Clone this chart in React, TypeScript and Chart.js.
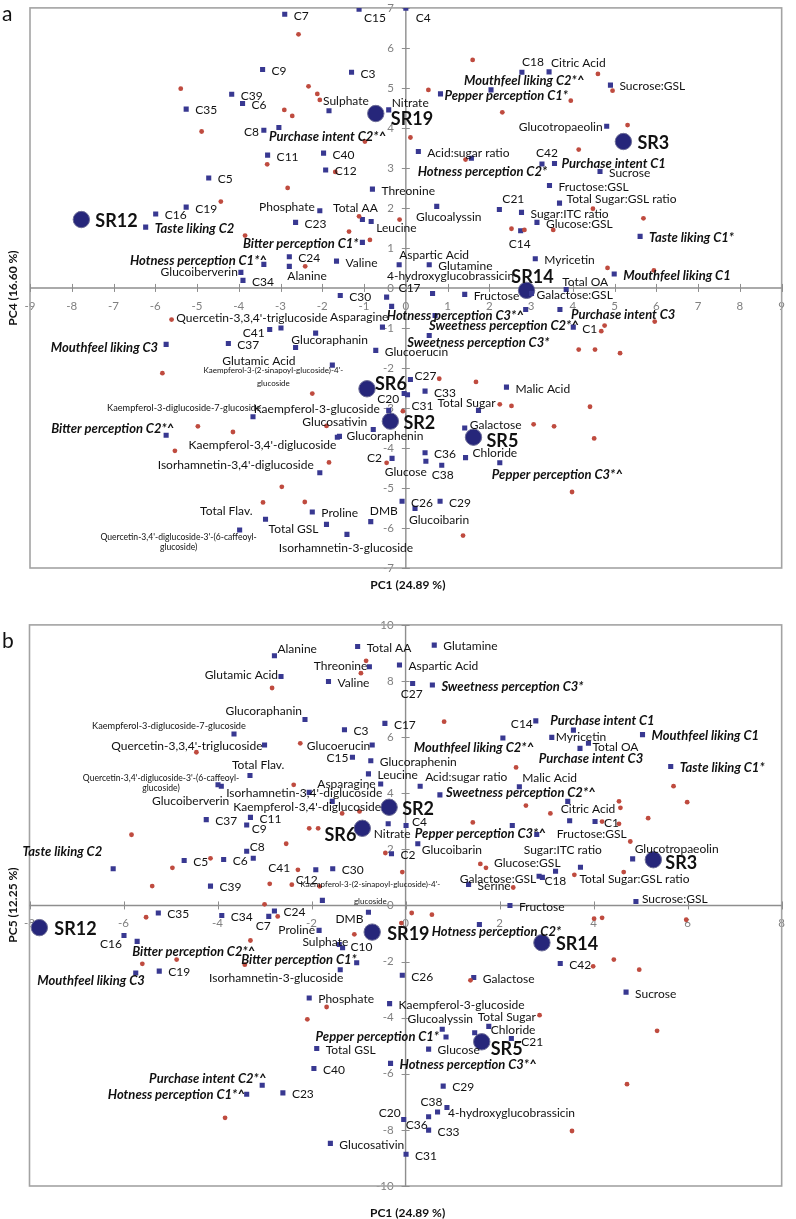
import React, { useEffect, useRef } from 'react';
import { Chart, registerables } from 'chart.js';

Chart.register(...registerables);

type Item = [string, number, number];
type Pair = [number, number];
type Align = 'left' | 'right' | 'center';
type Place = [number, number, Align?, number?];

const SINAPOYL = "Kaempferol-3-(2-sinapoyl-glucoside)-4'-\nglucoside";
const CAFFEOYL = "Quercetin-3,4'-diglucoside-3'-(6-caffeoyl-\nglucoside)";

// ---------------- Panel a : PC1 vs PC4 ----------------
const ticksA_PC1 = [-9, -8, -7, -6, -5, -4, -3, -2, -1, 0, 1, 2, 3, 4, 5, 6, 7, 8, 9];
const ticksA_PC4 = [-7, -6, -5, -4, -3, -2, -1, 0, 1, 2, 3, 4, 5, 6, 7];
const titlesA = ['PC1 (24.89 %)', 'PC4 (16.60 %)'];

const samplesA: Item[] = [
  ['SR19', -0.72, 4.36], ['SR3', 5.21, 3.66], ['SR12', -7.77, 1.71], ['SR14', 2.89, -0.06],
  ['SR6', -0.93, -2.52], ['SR2', -0.37, -3.33], ['SR5', 1.62, -3.73],
];

const variablesA: Item[] = [
  ['C7', -2.90, 6.84], ['C15', -1.12, 6.97], ['C4', 0.0, 6.99], ['C9', -3.43, 5.46], ['C3', -1.30, 5.39],
  ['C39', -4.17, 4.84], ['C6', -3.91, 4.61], ['C35', -5.26, 4.47], ['Sulphate', -1.84, 4.43], ['Nitrate', -0.41, 4.45],
  ['C8', -3.40, 3.94], ['Purchase intent C2*^', -3.04, 4.01], ['C11', -3.31, 3.32], ['C40', -1.97, 3.37],
  ['Acid:sugar ratio', 0.30, 3.41], ['C12', -1.92, 2.95], ['C5', -4.72, 2.75], ['Threonine', -0.80, 2.47],
  ['C19', -5.26, 2.02], ['C16', -5.99, 1.85], ['Phosphate', -2.06, 1.93], ['Total AA', -1.04, 1.71],
  ['Leucine', -0.83, 1.66], ['C23', -2.64, 1.64], ['Taste liking C2', -6.23, 1.52], ['Bitter perception C1*', -1.04, 1.14],
  ['Glucoalyssin', 0.74, 2.04], ['C21', 2.24, 1.96], ['Sugar:ITC ratio', 2.77, 1.89], ['C14', 2.75, 1.43],
  ['Glucose:GSL', 3.14, 1.64], ['C24', -2.79, 0.78], ['Alanine', -2.79, 0.54], ['Valine', -1.66, 0.67],
  ['Aspartic Acid', -0.16, 0.58], ['Glutamine', 0.56, 0.58], ['Hotness perception C1*^', -3.40, 0.59],
  ['Glucoiberverin', -3.95, 0.39], ['C34', -3.90, 0.19], ['Myricetin', 3.10, 0.73], ['Mouthfeel liking C1', 4.99, 0.35],
  ['Taste liking C1*', 5.61, 1.29], ['C18', 2.78, 5.39], ['Citric Acid', 3.43, 5.40], ['Mouthfeel liking C2*^', 2.04, 4.95],
  ['Pepper perception C1*', 0.83, 4.85], ['Sucrose:GSL', 4.90, 5.07], ['Glucotropaeolin', 4.81, 4.04], ['C42', 3.26, 3.10],
  ['Purchase intent C1', 3.56, 3.11], ['Hotness perception C2*', 1.57, 3.24], ['Sucrose', 4.65, 2.91],
  ['Fructose:GSL', 3.44, 2.56], ['Total Sugar:GSL ratio', 3.68, 2.12], ['Total OA', 3.84, -0.04],
  ['Galactose:GSL', 3.01, -0.14], ['Fructose', 1.41, -0.16], ['4-hydroxyglucobrassicin', 0.64, -0.14],
  ['C30', -1.57, -0.19], ['C17', -0.46, -0.23], ['', -0.34, -0.46], ['Asparagine', -0.56, -0.98],
  ['Hotness perception C3*^', 2.87, -0.54], ['Purchase intent C3', 3.69, -0.54], ['C1', 4.01, -0.98],
  ['Sweetness perception C2*^', 0.70, -0.69], ['Sweetness perception C3*', 0.56, -1.19], ['C41', -3.26, -1.04],
  ["Quercetin-3,3,4'-triglucoside", -2.99, -1.00], ['Glucoraphanin', -2.16, -1.13], ['Glutamic Acid', -2.64, -1.49],
  ['Glucoerucin', -0.72, -1.56], ['Mouthfeel liking C3', -5.74, -1.41], ['C37', -4.25, -1.39], [SINAPOYL, -1.76, -1.93],
  ['C27', 0.11, -2.29], ['C20', -0.04, -2.64], ['C31', 0.04, -2.67], ['C33', 0.46, -2.58], ['Malic Acid', 2.41, -2.48],
  ['Total Sugar', 1.74, -3.06], ['Kaempferol-3-glucoside', -0.41, -3.06], ['Glucosativin', -0.78, -3.54],
  ['Glucoraphenin', -1.59, -3.71], ["Kaempferol-3,4'-diglucoside", -1.64, -3.73], ['Galactose', 1.41, -3.50],
  ['C2', -0.33, -4.26], ['Glucose', 0.48, -4.33], ['C36', 0.46, -4.12], ['C38', 0.86, -4.43], ['Chloride', 1.43, -4.24],
  ['Pepper perception C3*^', 2.25, -4.37], ["Isorhamnetin-3,4'-diglucoside", -2.06, -4.62],
  ['Kaempferol-3-diglucoside-7-glucoside', -3.66, -3.22], ['Bitter perception C2*^', -5.74, -3.68],
  ['Proline', -2.24, -5.60], ['DMB', -0.84, -5.84], ['C26', -0.09, -5.33], ['Glucoibarin', 0.22, -5.51],
  ['C29', 0.82, -5.33], ['Total Flav.', -3.36, -5.78], ['Total GSL', -1.90, -5.91],
  ['Isorhamnetin-3-glucoside', -1.41, -6.16], [CAFFEOYL, -3.98, -6.05],
];

const consumersA: Pair[] = [
  [-5.39, 4.98], [-4.89, 3.91], [-4.43, 2.16], [-3.85, 1.31], [-2.57, 6.34], [-2.33, 5.04], [-2.12, 4.85],
  [-2.06, 4.70], [-2.91, 4.45], [-2.72, 4.30], [-0.98, 3.66], [0.11, 3.76], [-3.32, 3.09], [-1.69, 2.90],
  [-2.83, 2.50], [-1.12, 1.79], [-0.15, 1.71], [-1.36, 1.41], [-0.86, 1.20], [-2.41, 0.54], [1.43, 3.21],
  [1.60, 5.70], [0.54, 4.95], [2.31, 4.39], [3.95, 4.68], [4.60, 5.35], [4.95, 4.93], [5.31, 4.07],
  [4.14, 3.46], [4.48, 1.98], [5.69, 1.74], [3.53, 1.45], [2.84, 1.45], [2.53, 1.48], [4.83, 0.50],
  [5.94, 0.44], [-5.61, -0.79], [-5.83, -2.13], [-4.98, -3.46], [-4.14, -3.60], [-5.53, -4.07],
  [-3.42, -5.36], [-2.97, -4.97], [-2.42, -5.35], [-1.84, -4.36], [-0.46, -4.37], [-0.07, -3.08],
  [-1.90, -3.45], [-2.24, -2.64], [0.80, -2.27], [1.68, -2.35], [2.25, -2.91], [2.53, -2.95],
  [1.37, -6.19], [4.76, -0.94], [4.68, -1.08], [5.96, -0.84], [4.14, -1.54], [4.53, -1.54], [5.13, -1.63],
  [4.41, -2.97], [3.06, -3.41], [3.55, -3.46], [4.51, -3.76], [3.98, -5.10],
];

// ---------------- Panel b : PC1 vs PC5 ----------------
const ticksB_PC1 = [-8, -6, -4, -2, 0, 2, 4, 6, 8];
const ticksB_PC5 = [-10, -8, -6, -4, -2, 0, 2, 4, 6, 8, 10];
const titlesB = ['PC1 (24.89 %)', 'PC5 (12.25 %)'];

const samplesB: Item[] = [
  ['SR2', -0.35, 3.50], ['SR6', -0.92, 2.75], ['SR3', 5.27, 1.63], ['SR12', -7.79, -0.79],
  ['SR19', -0.71, -0.95], ['SR14', 2.90, -1.33], ['SR5', 1.62, -4.86],
];

const variablesB: Item[] = [
  ['Glutamic Acid', -2.65, 8.16], ['Alanine', -2.79, 8.90], ['Total AA', -1.02, 9.23], ['Glutamine', 0.61, 9.28],
  ['Threonine', -0.77, 8.51], ['Aspartic Acid', -0.13, 8.57], ['Valine', -1.64, 7.98], ['C27', 0.15, 7.91],
  ['Sweetness perception C3*', 0.57, 7.86], ['Glucoraphanin', -2.14, 6.63],
  ['Kaempferol-3-diglucoside-7-glucoside', -3.65, 6.11], ["Quercetin-3,3,4'-triglucoside", -3.00, 5.72],
  ['C3', -1.30, 6.26], ['C17', -0.44, 6.49], ['Glucoerucin', -0.71, 5.72], ['C15', -1.13, 5.28],
  ['Glucoraphenin', -0.74, 5.16], ['Total Flav.', -3.31, 4.63], [CAFFEOYL, -3.99, 4.30], ['Glucoiberverin', -3.92, 4.25],
  ["Isorhamnetin-3,4'-diglucoside", -2.05, 4.03], ["Kaempferol-3,4'-diglucoside", -1.56, 3.71],
  ['Asparagine', -0.53, 4.33], ['Leucine', -0.79, 4.69], ['Acid:sugar ratio', 0.31, 4.25],
  ['Sweetness perception C2*^', 0.73, 3.94], ['Mouthfeel liking C2*^', 2.07, 5.97], ['C14', 2.77, 6.58],
  ['Purchase intent C1', 3.57, 6.25], ['Myricetin', 3.11, 5.99], ['Total OA', 3.89, 5.78],
  ['Purchase intent C3', 3.71, 5.60], ['Mouthfeel liking C1', 5.04, 6.09], ['Taste liking C1*', 5.64, 4.95],
  ['Malic Acid', 2.42, 4.23], ['Citric Acid', 3.45, 3.71], ['Fructose:GSL', 3.49, 3.02], ['C1', 4.03, 2.99],
  ['Nitrate', -0.37, 2.91], ['C4', 0.01, 2.85], ['Pepper perception C3*^', 2.27, 2.85], ['Sugar:ITC ratio', 2.79, 2.53],
  ['Glucoibarin', 0.26, 2.20], ['C2', -0.30, 1.84], ['Glucotropaeolin', 4.83, 1.66], ['Glucose:GSL', 3.19, 1.22],
  ['Galactose:GSL', 2.84, 1.04], ['C18', 2.91, 1.00], ['Total Sugar:GSL ratio', 3.72, 1.36],
  ['Taste liking C2', -6.22, 1.31], ['C8', -3.38, 1.93], ['C37', -4.24, 3.06], ['C11', -3.30, 3.14], ['C9', -3.38, 2.87],
  ['C5', -4.71, 1.60], ['C6', -3.87, 1.64], ['C41', -3.24, 1.68], ['C12', -1.91, 1.27], ['C30', -1.55, 1.31],
  ['C39', -4.15, 0.69], [SINAPOYL, -1.77, 0.18], ['Serine', 1.34, 0.75], ['Fructose', 2.22, 0.0],
  ['Sucrose:GSL', 4.90, 0.14], ['C35', -5.26, -0.27], ['C34', -3.91, -0.36], ['C24', -2.79, -0.20], ['C7', -2.91, -0.39],
  ['Proline', -1.84, -0.89], ['DMB', -0.79, -0.24], ['C16', -5.99, -1.07], ['Bitter perception C2*^', -5.71, -1.28],
  ['Sulphate', -1.41, -1.39], ['C10', -1.34, -1.51], ['Hotness perception C2*', 1.57, -0.68], ['C42', 3.29, -2.07],
  ['Sucrose', 4.69, -3.09], ['Bitter perception C1*', -1.04, -2.04], ['Isorhamnetin-3-glucoside', -1.39, -2.29],
  ['Mouthfeel liking C3', -5.74, -2.41], ['C19', -5.24, -2.34], ['C26', -0.07, -2.49], ['Galactose', 1.45, -2.57],
  ['Phosphate', -2.05, -3.30], ['Kaempferol-3-glucoside', -0.34, -3.50], ['Glucoalyssin', 0.78, -4.41],
  ['Total Sugar', 1.47, -4.54], ['Chloride', 1.77, -4.31], ['Pepper perception C1*', 0.86, -4.69], ['C21', 2.25, -4.74],
  ['Glucose', 0.49, -5.12], ['Total GSL', -1.89, -5.10], ['C40', -1.95, -5.81], ['Hotness perception C3*^', -0.32, -5.63],
  ['C23', -2.61, -6.68], ['Purchase intent C2*^', -3.05, -6.41], ['Hotness perception C1*^', -3.38, -6.73],
  ['C29', 0.80, -6.44], ['4-hydroxyglucobrassicin', 0.88, -7.20], ['C38', 0.68, -7.36], ['C36', 0.49, -7.53],
  ['C33', 0.49, -8.01], ['C20', -0.04, -7.63], ['C31', 0.01, -8.87], ['Glucosativin', -1.60, -8.48],
];

const consumersB: Pair[] = [
  [-2.84, 7.75], [-0.84, 8.72], [-0.95, 8.28], [0.82, 6.55], [-2.24, 5.78], [-4.45, 5.46], [-2.38, 4.30],
  [-1.35, 3.28], [-0.98, 3.35], [-2.05, 2.75], [-1.86, 2.75], [-2.54, 2.20], [-5.83, 2.52], [-4.15, 1.68],
  [-4.96, 1.34], [-5.39, 0.69], [-2.29, 1.27], [-2.89, 0.77], [-2.42, 0.74], [-1.83, 0.68], [-3.00, 0.04],
  [-2.72, -0.39], [-0.43, 1.87], [-0.07, 1.19], [1.43, 2.96], [2.35, 4.92], [2.56, 3.56], [3.08, 3.28],
  [4.54, 3.71], [4.57, 3.48], [4.54, 2.91], [4.18, 2.99], [5.16, 3.11], [5.70, 4.25], [5.99, 3.68],
  [4.78, 2.28], [4.64, 1.19], [3.59, 1.09], [1.59, 1.48], [1.71, 1.34], [2.29, 0.64], [4.18, -0.44],
  [4.01, -0.47], [5.97, -0.51], [-0.09, -0.63], [0.13, -0.27], [0.56, -0.33], [-1.09, -1.03], [-3.30, -1.25],
  [-3.42, -2.11], [-5.52, -0.42], [-5.60, -2.08], [-4.87, -1.93], [3.99, -2.17], [4.43, -1.93], [4.97, -2.29],
  [2.85, -3.91], [5.35, -4.47], [4.71, -6.37], [3.54, -8.04], [1.38, -2.67], [-1.68, -3.62], [-2.09, -4.06],
  [-3.84, -7.57],
];

// ---------------- label placement (pixel offsets from each marker) ----------------
const placeA: Record<string, Place> = {
  C15: [5, 9], C4: [10, 10], Sulphate: [-6, -10], Nitrate: [3, -7], C8: [-5, 2, 'right'],
  'Purchase intent C2*^': [-10, 9], 'Hotness perception C2*': [11, 13, 'center'], Phosphate: [-5, -4, 'right'],
  'Total AA': [-7, -11, 'center'], Leucine: [5, 7], 'Bitter perception C1*': [-4, 1, 'right'],
  Glucoalyssin: [12, 11, 'center'], C21: [3, -10], C14: [-1, 13, 'center'], Alanine: [-2, 10],
  'Aspartic Acid': [0, -10], 'Hotness perception C1*^': [3, -4, 'right'], Glucoiberverin: [-3, 0, 'right'],
  C18: [0, -10], 'Citric Acid': [2, -9], 'Mouthfeel liking C2*^': [-27, -9], 'Pepper perception C1*': [4, 2],
  Glucotropaeolin: [-4, 1, 'right'], C42: [5, -11, 'center'], 'Purchase intent C1': [7, 0],
  'Total Sugar:GSL ratio': [7, -4], 'Total OA': [-4, -7], 'Galactose:GSL': [5, 2],
  '4-hydroxyglucobrassicin': [18, -17, 'center'], C17: [12, -9], Asparagine: [6, -10, 'right'],
  'Hotness perception C3*^': [-2, 6, 'right'], 'Sweetness perception C2*^': [-6, 10],
  'Sweetness perception C3*': [-22, 7], 'Purchase intent C3': [11, 5], C41: [-5, 4, 'right'],
  "Quercetin-3,3,4'-triglucoside": [-29, -10, 'center'], Glucoraphanin: [14, 7, 'center'],
  'Glutamic Acid': [0, 14, 'right'], [SINAPOYL]: [-59, 5, 'center', 13], C27: [4, -3], C20: [-5, 6, 'right'],
  C31: [4, 11], 'Total Sugar': [-12, -7, 'center'], 'Kaempferol-3-glucoside': [-9, -1, 'right'],
  Glucosativin: [-6, -7, 'right'], Glucoraphenin: [7, 0], "Kaempferol-3,4'-diglucoside": [-1, 8, 'right'],
  Galactose: [5, -3], C2: [-10, 0, 'right'], Glucose: [1, 11, 'right'], C38: [1, 10, 'center'], Chloride: [7, -4],
  'Pepper perception C3*^': [-8, 12], "Isorhamnetin-3,4'-diglucoside": [-6, -8, 'right'],
  'Kaempferol-3-diglucoside-7-glucoside': [-69, -9, 'center'], 'Bitter perception C2*^': [8, -6, 'right'],
  'Mouthfeel liking C3': [-8, 3, 'right'], DMB: [-1, -10], Glucoibarin: [-6, 12], 'Total Flav.': [-13, -8, 'right'],
  'Total GSL': [-8, 5, 'right'], 'Isorhamnetin-3-glucoside': [-1, 14, 'center'], [CAFFEOYL]: [-61, 7, 'center', 10.5],
  SR19: [15, 6], SR3: [14, 2], SR12: [14, 2], SR14: [6, -13, 'center'], SR6: [8, -5], SR2: [13, 2], SR5: [13, 4],
};

const placeB: Record<string, Place> = {
  'Glutamic Acid': [-3, -1, 'right'], Alanine: [3, -7], Threonine: [-2, -1, 'right'], C27: [-1, 11, 'center'],
  Glucoraphanin: [-3, -8, 'right'], 'Kaempferol-3-diglucoside-7-glucoside': [-65, -8, 'center'],
  "Quercetin-3,3,4'-triglucoside": [-2, 1, 'right'], Glucoerucin: [-2, 1, 'right'], C15: [-4, 1, 'right'],
  'Total Flav.': [-18, -10], [CAFFEOYL]: [-57, -7, 'center', 10], Glucoiberverin: [8, 15, 'right'],
  "Isorhamnetin-3,4'-diglucoside": [-5, 1, 'center'], "Kaempferol-3,4'-diglucoside": [-25, 6, 'center'],
  Asparagine: [-5, 0, 'right'], 'Acid:sugar ratio': [5, -9], 'Sweetness perception C2*^': [6, -2],
  'Mouthfeel liking C2*^': [-29, 10, 'center'], C14: [-3, 3, 'right'], 'Purchase intent C1': [29, -9, 'center'],
  Myricetin: [4, 0], 'Total OA': [4, 4], 'Purchase intent C3': [11, 10, 'center'], 'Malic Acid': [3, -9],
  'Citric Acid': [-7, 8], 'Fructose:GSL': [-13, 13], Nitrate: [4, 10, 'center'], C4: [6, -3],
  'Pepper perception C3*^': [-32, 8, 'center'], 'Sugar:ITC ratio': [-13, 16], Glucoibarin: [4, 6],
  Glucotropaeolin: [2, -10], 'Glucose:GSL': [5, -8, 'right'], 'Galactose:GSL': [-3, 3, 'right'], C18: [2, 4],
  'Total Sugar:GSL ratio': [-1, 12], 'Taste liking C2': [-11, -17, 'right'], C8: [3, -4], C9: [5, 4],
  C41: [15, 10], C12: [2, 10, 'right'], [SINAPOYL]: [48, -16, 'center', 17], 'Sucrose:GSL': [6, -2],
  C7: [2, 10, 'right'], Proline: [-4, 0, 'right'], DMB: [-5, 7, 'right'], C16: [-2, 9, 'right'],
  'Bitter perception C2*^': [-5, 10], Sulphate: [9, -2, 'right'], C10: [8, -1],
  'Hotness perception C2*': [17, 7, 'center'], 'Bitter perception C1*': [0, -3, 'right'],
  'Isorhamnetin-3-glucoside': [-64, 8, 'center'], 'Mouthfeel liking C3': [9, 8, 'right'],
  Glucoalyssin: [-2, -10, 'center'], 'Total Sugar': [3, -16], Chloride: [2, 4],
  'Pepper perception C1*': [-7, 0, 'right'], C21: [10, 4], 'Purchase intent C2*^': [4, -6, 'right'],
  'Hotness perception C1*^': [-2, 1, 'right'], '4-hydroxyglucobrassicin': [1, 6], C38: [-6, -10, 'center'],
  C36: [-1, 8, 'right'], C20: [-3, -6, 'right'],
  SR2: [13, 2], SR6: [-6, 7, 'right'], SR3: [12, 3], SR12: [15, 2], SR19: [15, 2], SR14: [14, 1], SR5: [9, 7],
};

// ---------------- rendering ----------------
const FONT = 'Lato, "Open Sans", sans-serif';

function labelFont(name: string, isSample: boolean): string {
  if (isSample) return `bold 18px ${FONT}`;
  if (/perception|liking|intent/.test(name)) return `italic bold 13px ${FONT}`;
  if (name === 'Kaempferol-3-diglucoside-7-glucoside') return `9.2px ${FONT}`;
  if (name === SINAPOYL) return `8px ${FONT}`;
  if (name === CAFFEOYL) return `8.6px ${FONT}`;
  return `12px ${FONT}`;
}

type PanelDef = {
  id: string;
  letter: string;
  xTicks: number[];
  yTicks: number[];
  titles: string[];
  samples: Item[];
  variables: Item[];
  consumers: Pair[];
  place: Record<string, Place>;
  padding: { left: number; right: number; top: number; bottom: number };
  xTitleY: number;
  yTitleY: number;
  letterY: number;
};

function makeOverlay(p: PanelDef) {
  return {
    id: 'overlay_' + p.id,
    beforeDatasetsDraw(chart: any) {
      const { ctx, chartArea: a } = chart;
      const xs = chart.scales.x, ys = chart.scales.y;
      const x0 = xs.getPixelForValue(0), y0 = ys.getPixelForValue(0);
      ctx.save();
      ctx.strokeStyle = '#a3a3a3';
      ctx.lineWidth = 1.6;
      ctx.strokeRect(a.left, a.top, a.right - a.left, a.bottom - a.top);
      ctx.strokeStyle = '#8e8e8e';
      ctx.lineWidth = 1.4;
      ctx.beginPath();
      ctx.moveTo(a.left, y0); ctx.lineTo(a.right, y0);
      ctx.moveTo(x0, a.top); ctx.lineTo(x0, a.bottom);
      ctx.stroke();
      ctx.lineWidth = 1;
      ctx.beginPath();
      xs.ticks.forEach((t: any) => { const px = Math.round(xs.getPixelForValue(t.value)) + 0.5; ctx.moveTo(px, y0 - 4); ctx.lineTo(px, y0 + 4); });
      ys.ticks.forEach((t: any) => { const py = Math.round(ys.getPixelForValue(t.value)) + 0.5; ctx.moveTo(x0 - 4, py); ctx.lineTo(x0 + 4, py); });
      ctx.stroke();
      ctx.restore();
    },
    afterDatasetsDraw(chart: any) {
      const { ctx } = chart;
      ctx.save();
      ctx.fillStyle = '#111';
      ctx.textBaseline = 'middle';
      const drawSet = (dsIndex: number, items: Item[], isSample: boolean) => {
        const meta = chart.getDatasetMeta(dsIndex);
        items.forEach((it, i) => {
          const name = it[0];
          if (!name) return;
          const el = meta.data[i];
          const pl: Place = p.place[name] || (isSample ? [14, 2] : [9, 1.5]);
          const align: Align = pl[2] || 'left';
          const gap = pl[3] || 12;
          ctx.font = labelFont(name, isSample);
          ctx.textAlign = align;
          name.split('\n').forEach((line, k) => {
            ctx.fillText(line, el.x + pl[0], el.y + pl[1] + k * gap);
          });
        });
      };
      drawSet(1, p.variables, false);
      drawSet(2, p.samples, true);
      ctx.restore();
    },
    afterDraw(chart: any) {
      const { ctx } = chart;
      const xs = chart.scales.x;
      ctx.save();
      ctx.fillStyle = '#111';
      ctx.font = `bold 12px ${FONT}`;
      ctx.textAlign = 'center';
      ctx.textBaseline = 'middle';
      ctx.fillText(p.titles[0], xs.getPixelForValue(0) + 2, p.xTitleY);
      ctx.translate(13, p.yTitleY);
      ctx.rotate(-Math.PI / 2);
      ctx.fillText(p.titles[1], 0, 0);
      ctx.restore();
      ctx.save();
      ctx.fillStyle = '#111';
      ctx.font = `21px ${FONT}`;
      ctx.textAlign = 'left';
      ctx.textBaseline = 'alphabetic';
      ctx.fillText(p.letter, 2, p.letterY);
      ctx.restore();
    },
  };
}

function makeConfig(p: PanelDef): any {
  const tickFont = { family: FONT, size: 11.5 };
  return {
    type: 'scatter',
    data: {
      datasets: [
        {
          data: p.consumers.map(([x, y]) => ({ x, y })),
          pointStyle: 'circle', pointRadius: 2.4, backgroundColor: '#bf4b3f', borderWidth: 0,
        },
        {
          data: p.variables.map(([, x, y]) => ({ x, y })),
          pointStyle: 'rect', pointRadius: 3.6, backgroundColor: '#383891', borderWidth: 0,
        },
        {
          data: p.samples.map(([, x, y]) => ({ x, y })),
          pointStyle: 'circle', pointRadius: 8.2, backgroundColor: '#26267a', borderColor: '#6d6d96', borderWidth: 1,
        },
      ],
    },
    options: {
      animation: false,
      responsive: false,
      devicePixelRatio: 1,
      events: [],
      layout: { padding: p.padding },
      plugins: { legend: { display: false }, tooltip: { enabled: false } },
      scales: {
        x: {
          type: 'linear', position: 'center',
          min: p.xTicks[0], max: p.xTicks[p.xTicks.length - 1],
          afterBuildTicks: (s: any) => { s.ticks = p.xTicks.map((v) => ({ value: v })); },
          ticks: { color: '#808080', font: tickFont, padding: 11, autoSkip: false, maxRotation: 0 },
          grid: { display: false, drawTicks: false },
          border: { display: false },
        },
        y: {
          type: 'linear', position: 'center',
          min: p.yTicks[0], max: p.yTicks[p.yTicks.length - 1],
          afterBuildTicks: (s: any) => { s.ticks = p.yTicks.map((v) => ({ value: v })); },
          ticks: { color: '#808080', font: tickFont, padding: 12, autoSkip: false },
          grid: { display: false, drawTicks: false },
          border: { display: false },
        },
      },
    },
    plugins: [makeOverlay(p)],
  };
}

// canvas A spans page y -11..609, canvas B spans 606..1219
const panelA: PanelDef = {
  id: 'a', letter: 'a', xTicks: ticksA_PC1, yTicks: ticksA_PC4, titles: titlesA,
  samples: samplesA, variables: variablesA, consumers: consumersA, place: placeA,
  padding: { left: 30, right: 5, top: 18, bottom: 41 }, xTitleY: 596, yTitleY: 299, letterY: 32,
};

const panelB: PanelDef = {
  id: 'b', letter: 'b', xTicks: ticksB_PC1, yTicks: ticksB_PC5, titles: titlesB,
  samples: samplesB, variables: variablesB, consumers: consumersB, place: placeB,
  padding: { left: 29.5, right: 3, top: 18, bottom: 33 }, xTitleY: 607, yTitleY: 299, letterY: 42,
};

function Panel({ def, top, height }: { def: PanelDef; top: number; height: number }) {
  const ref = useRef<HTMLCanvasElement>(null);
  useEffect(() => {
    if (!ref.current) return;
    const chart = new Chart(ref.current, makeConfig(def));
    return () => chart.destroy();
  }, [def]);
  return (
    <canvas
      ref={ref}
      width={796}
      height={height}
      style={{ position: 'absolute', left: 0, top, width: 796, height, display: 'block' }}
    />
  );
}

export default function App() {
  return (
    <div style={{ position: 'absolute', left: 0, top: 0, width: 796, height: 1219, background: '#fff', overflow: 'hidden' }}>
      <Panel def={panelA} top={-11} height={620} />
      <Panel def={panelB} top={606} height={613} />
    </div>
  );
}
